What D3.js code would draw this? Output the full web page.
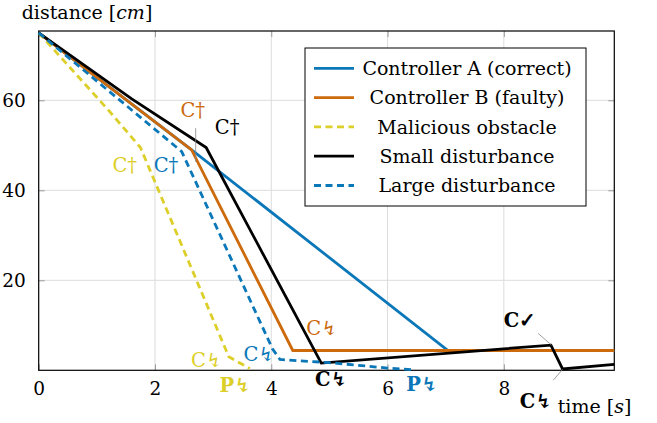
<!DOCTYPE html>
<html>
<head>
<meta charset="utf-8">
<script src="https://cdn.jsdelivr.net/npm/d3@7"></script>
<style>
  body { margin: 0; background: #fff; }
  text { font-family: "DejaVu Serif", serif; }
</style>
</head>
<body>
<svg id="plot"></svg>
<script>
// Series data: time [s] and distance [cm]
const seriesNames = ['Controller A (correct)', 'Controller B (faulty)', 'Malicious obstacle', 'Small disturbance', 'Large disturbance'];
const seriesColors = ['#0a77b8', '#cc6a0c', '#ddcf2a', '#000000', '#0a77b8'];
const seriesDashed = [false, false, true, false, true];

const timeA = [0, 2.63, 7.04, 9.9];
const distA = [75, 49, 4.4, 4.4];
const timeB = [0, 2.63, 4.37, 9.9];
const distB = [75, 49, 4.4, 4.4];
const timeMal = [0, 1.2, 1.75, 3.27, 3.63];
const distMal = [75, 57.8, 49.5, 3, 0.4];
const timeSmall = [0, 1.6, 2.88, 4.86, 8.81, 9.01, 9.9];
const distSmall = [75, 60.3, 49.5, 1.6, 5.6, 0.3, 1.3];
const timeLarge = [0, 2.46, 4.02, 4.15, 5.0, 6.0, 6.47];
const distLarge = [75, 48.6, 4.8, 2.4, 1.7, 0.5, 0.1];

const xTicks = [0, 2, 4, 6, 8];
const yTicks = [20, 40, 60];

// Event annotations (anchor in data coordinates)
const noteText = ['C†', 'C†', 'C†', 'C†', 'C↯', 'C↯', 'P↯', 'C↯', 'C↯', 'P↯', 'C✓', 'C↯'];
const noteX = [2.65, 3.24, 1.48, 2.19, 2.89, 3.79, 3.38, 4.87, 5.03, 6.59, 8.28, 8.55];
const noteY = [56.3, 52.5, 44.1, 44.1, 0.7, 2.1, -4.8, 7.85, -3.5, -4.6, 9.6, -8.4];
const noteSeries = [1, 3, 2, 4, 2, 4, 2, 1, 3, 4, 3, 3];
const noteBold = [false, false, false, false, false, false, true, false, true, true, true, true];

// Pin lines from labels to events
const pins = [
  [[2.7, 53.8], [2.7, 46.3]],
  [[8.59, 8.2], [8.82, 5.6]],
  [[8.85, -2.2], [9.01, 0.2]]
];

let margin = { top: 31, left: 38.7 };
let width = 575.6;
let height = 339.3;

let svg = d3.select('#plot')
    .attr('width', 657)
    .attr('height', 423)
    .append('g')
    .attr('transform', `translate(${margin.left}, ${margin.top})`);

let xScale = d3.scaleLinear().domain([0, 9.9]).range([0, width]);
let yScale = d3.scaleLinear().domain([0, 75.4]).range([height, 0]);

// Grid
svg.append('g')
    .selectAll('line')
    .data(xTicks.slice(1))
    .enter()
    .append('line')
    .attr('x1', d => xScale(d)).attr('x2', d => xScale(d))
    .attr('y1', 0).attr('y2', height)
    .attr('stroke', '#dcdcdc').attr('stroke-width', 1);
svg.append('g')
    .selectAll('line')
    .data(yTicks)
    .enter()
    .append('line')
    .attr('y1', d => yScale(d)).attr('y2', d => yScale(d))
    .attr('x1', 0).attr('x2', width)
    .attr('stroke', '#dcdcdc').attr('stroke-width', 1);

// Axes with inner ticks
let xAxis = svg.append('g')
    .attr('transform', `translate(0, ${height})`)
    .call(d3.axisBottom(xScale).tickValues(xTicks).tickSize(-6).tickPadding(12).tickFormat(d3.format('d')));
let xAxisTop = svg.append('g')
    .call(d3.axisTop(xScale).tickValues(xTicks).tickSize(-6).tickFormat(''));
let yAxis = svg.append('g')
    .call(d3.axisLeft(yScale).tickValues(yTicks).tickSize(-6).tickPadding(13));
let yAxisRight = svg.append('g')
    .attr('transform', `translate(${width}, 0)`)
    .call(d3.axisRight(yScale).tickValues(yTicks).tickSize(-6).tickFormat(''));

[xAxis, xAxisTop, yAxis, yAxisRight].forEach(a => {
    a.select('.domain').remove();
    a.selectAll('.tick line').attr('stroke', '#9a9a9a');
    a.selectAll('text')
        .style('font-family', '"DejaVu Serif", serif')
        .style('font-size', '18.5px')
        .attr('fill', '#000');
});

// Frame
svg.append('rect')
    .attr('width', width).attr('height', height)
    .attr('fill', 'none').attr('stroke', '#000').attr('stroke-width', 1.2);

// Lines
let line = d3.line()
    .x(d => xScale(d[0]))
    .y(d => yScale(d[1]));

let seriesTimes = [timeA, timeB, timeMal, timeSmall, timeLarge];
let seriesDists = [distA, distB, distMal, distSmall, distLarge];

seriesNames.forEach(function(name, i) {
    let pts = seriesTimes[i].map((t, j) => [t, seriesDists[i][j]]);
    svg.append('path')
        .datum(pts)
        .attr('d', line)
        .attr('fill', 'none')
        .attr('stroke', seriesColors[i])
        .attr('stroke-width', 2.8)
        .attr('stroke-linejoin', 'miter')
        .attr('stroke-dasharray', seriesDashed[i] ? '7,4.5' : null);
});

// Pins
svg.selectAll('.pin')
    .data(pins)
    .enter()
    .append('line')
    .attr('class', 'pin')
    .attr('x1', d => xScale(d[0][0])).attr('y1', d => yScale(d[0][1]))
    .attr('x2', d => xScale(d[1][0])).attr('y2', d => yScale(d[1][1]))
    .attr('stroke', '#888').attr('stroke-width', 0.8);

// Annotations
svg.selectAll('.note')
    .data(noteText)
    .enter()
    .append('text')
    .attr('class', 'note')
    .attr('x', (d, i) => xScale(noteX[i]))
    .attr('y', (d, i) => yScale(noteY[i]))
    .attr('text-anchor', 'middle')
    .style('font-size', '19.5px')
    .style('font-weight', (d, i) => noteBold[i] ? 'bold' : 'normal')
    .attr('fill', (d, i) => seriesColors[noteSeries[i]])
    .text(d => d);

// Axis labels
let yLabel = svg.append('text')
    .attr('x', -17)
    .attr('y', -12)
    .style('font-size', '19px');
yLabel.append('tspan').text('distance [');
yLabel.append('tspan').style('font-style', 'italic').text('cm');
yLabel.append('tspan').text(']');

let xLabel = svg.append('text')
    .attr('x', 519)
    .attr('y', 382)
    .style('font-size', '19px');
xLabel.append('tspan').text('time [');
xLabel.append('tspan').style('font-style', 'italic').text('s');
xLabel.append('tspan').text(']');

// Legend
let legendX = 305 - margin.left;
let legendY = 48 - margin.top;
let lg = svg.append('g').attr('transform', `translate(${legendX}, ${legendY})`);
lg.append('rect')
    .attr('width', 281).attr('height', 158)
    .attr('fill', '#fff').attr('stroke', '#000').attr('stroke-width', 1);

let legend = lg.selectAll('.legend')
    .data(seriesNames)
    .enter()
    .append('g')
    .attr('class', 'legend')
    .attr('transform', (d, i) => `translate(0, ${20.3 + i * 29.3})`);

legend.append('line')
    .attr('x1', 9).attr('x2', 49)
    .attr('y1', 0).attr('y2', 0)
    .attr('stroke', (d, i) => seriesColors[i])
    .attr('stroke-width', 2.8)
    .attr('stroke-dasharray', (d, i) => seriesDashed[i] ? '7,4.5' : null);

legend.append('text')
    .attr('x', 162)
    .attr('y', 0)
    .attr('dy', '.35em')
    .attr('text-anchor', 'middle')
    .style('font-size', '19px')
    .text(d => d);
</script>
</body>
</html>
